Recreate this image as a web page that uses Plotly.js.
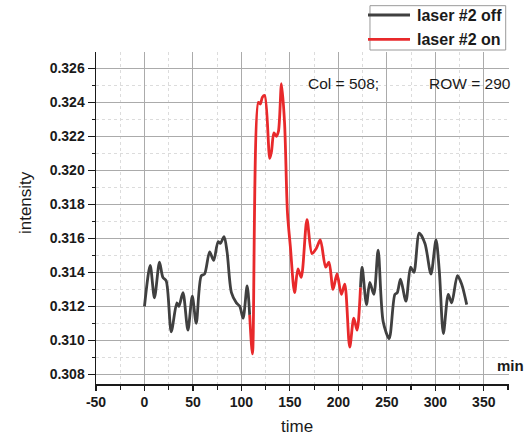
<!DOCTYPE html>
<html>
<head>
<meta charset="utf-8">
<script src="https://cdn.plot.ly/plotly-3.0.1.min.js"></script>
<style>
  html, body { margin: 0; padding: 0; background: #fff; }
  #chart { width: 525px; height: 435px; }
</style>
</head>
<body>
<div id="chart"></div>
<script>
// Series names
const seriesNames = ['laser #2 off', 'laser #2 on'];

// Laser off: before and after the illuminated interval (null splits the two runs)
const offTime = [0, 5.9, 10.3, 15.5, 19, 22.4, 27.6, 33.4, 35.5, 39.7, 44.8, 49.3, 53.4, 58.6, 62, 67.2, 71.4, 75.9, 78.3, 82.1, 85.2, 89.7, 94.8, 98.3, 101.7, 105.9, 108.5,
  null,
  222.8, 224.5, 229, 232.4, 236.6, 241, 246.2, 252.4, 258.3, 260.7, 264.1, 269.7, 274.5, 277.9, 283.4, 289.3, 295.5, 300.7, 304.1, 308.3, 313.4, 316.9, 322.8, 327.2, 332.4];
const offIntensity = [0.3120, 0.3144, 0.3125, 0.3146, 0.3137, 0.3135, 0.3105, 0.3122, 0.3120, 0.3128, 0.3106, 0.3126, 0.3110, 0.3138, 0.3139, 0.3152, 0.3147, 0.3158, 0.3157, 0.3161, 0.3152, 0.3128, 0.3122, 0.3120, 0.3113, 0.3132, 0.3115,
  null,
  0.3131, 0.3143, 0.3121, 0.3134, 0.3127, 0.3153, 0.3111, 0.3101, 0.3127, 0.3128, 0.3136, 0.3123, 0.3143, 0.3140, 0.3163, 0.3157, 0.3139, 0.3159, 0.3141, 0.3104, 0.3127, 0.3122, 0.3138, 0.3133, 0.3121];

// Laser on
const onTime = [108.5, 111.4, 117.5, 119.5, 121.6, 124, 129.2, 131, 133.5, 136, 138.2, 141.3, 144.5, 147.5, 150.5, 154.8, 158.3, 161.7, 167.6, 172.8, 177.2, 181.4, 186.9, 190.3, 194.5, 198.6, 203.1, 206.6, 211.7, 215.9, 219.3, 222.8];
const onIntensity = [0.3115, 0.3092, 0.3240, 0.3239, 0.3243, 0.3244, 0.3207, 0.3211, 0.3222, 0.3220, 0.3223, 0.3251, 0.3228, 0.3175, 0.3155, 0.3128, 0.3142, 0.3137, 0.3171, 0.3151, 0.3154, 0.3159, 0.3143, 0.3146, 0.3130, 0.3139, 0.3127, 0.3133, 0.3096, 0.3113, 0.3106, 0.3131];

// Tick values
const xTicks = [-50, 0, 50, 100, 150, 200, 250, 300, 350];
const yTicks = [0.308, 0.310, 0.312, 0.314, 0.316, 0.318, 0.320, 0.322, 0.324, 0.326];

const colors = ['#404040', '#e8292b'];
const FONT = 'Liberation Sans, Arial, sans-serif';

const traces = [
  { x: offTime, y: offIntensity, name: seriesNames[0], mode: 'lines', connectgaps: false,
    line: { color: colors[0], width: 2.8, shape: 'spline', smoothing: 0.8 } },
  { x: onTime, y: onIntensity, name: seriesNames[1], mode: 'lines',
    line: { color: colors[1], width: 2.8, shape: 'spline', smoothing: 0.8 } }
];

// Legend box drawn in paper coordinates above the plot
const legendShapes = [
  { type: 'rect', xref: 'paper', yref: 'paper', x0: 0.6634, x1: 0.992, y0: 1.006, y1: 1.1395,
    line: { color: '#9a9a9a', width: 1 }, fillcolor: '#ffffff' },
  { type: 'line', xref: 'paper', yref: 'paper', x0: 0.6586, x1: 0.7603, y0: 1.1114, y1: 1.1114,
    line: { color: colors[0], width: 2.8 } },
  { type: 'line', xref: 'paper', yref: 'paper', x0: 0.6586, x1: 0.7603, y0: 1.0382, y1: 1.0382,
    line: { color: colors[1], width: 2.8 } }
];

const legendText = [
  { text: seriesNames[0], xref: 'paper', yref: 'paper', x: 0.7724, y: 1.1114, xanchor: 'left', yanchor: 'middle',
    showarrow: false, font: { family: FONT, size: 16, weight: 'bold', color: '#1a1a1a' } },
  { text: seriesNames[1], xref: 'paper', yref: 'paper', x: 0.7724, y: 1.0382, xanchor: 'left', yanchor: 'middle',
    showarrow: false, font: { family: FONT, size: 16, weight: 'bold', color: '#1a1a1a' } }
];

const notes = [
  { text: 'Col = 508;', xref: 'paper', yref: 'paper', x: 0.5085, y: 0.9066, xanchor: 'left', yanchor: 'middle',
    showarrow: false, font: { family: FONT, size: 15.5, color: '#1a1a1a' } },
  { text: 'ROW = 290', xref: 'paper', yref: 'paper', x: 0.8007, y: 0.9066, xanchor: 'left', yanchor: 'middle',
    showarrow: false, font: { family: FONT, size: 15.5, color: '#1a1a1a' } },
  { text: 'min', xref: 'paper', yref: 'paper', x: 0.966, y: 0.055, xanchor: 'left', yanchor: 'middle',
    showarrow: false, font: { family: FONT, size: 15, weight: 'bold', color: '#1a1a1a' } },
  { text: 'intensity', xref: 'paper', yref: 'paper', x: -0.1719, y: 0.545, xanchor: 'center', yanchor: 'middle',
    textangle: -90, showarrow: false, font: { family: FONT, size: 17, color: '#1a1a1a' } },
  { text: 'time', xref: 'paper', yref: 'paper', x: 0.4867, y: -0.1295, xanchor: 'center', yanchor: 'middle',
    showarrow: false, font: { family: FONT, size: 17, color: '#1a1a1a' } }
];

const layout = {
  width: 525, height: 435,
  margin: { l: 96, r: 16, t: 52, b: 51, pad: 0 },
  paper_bgcolor: '#ffffff', plot_bgcolor: '#ffffff',
  showlegend: false,
  xaxis: {
    range: [-50, 376], tickvals: xTicks, ticktext: xTicks.map(String),
    showline: true, linecolor: '#1a1a1a', linewidth: 1.5,
    ticks: 'outside', ticklen: 5, tickwidth: 1.2, tickcolor: '#1a1a1a',
    tickfont: { family: FONT, size: 14, weight: 'bold', color: '#1a1a1a' },
    showgrid: true, gridcolor: '#ababab', gridwidth: 1,
    zeroline: false,
    minor: { dtick: 25, tick0: 0, ticks: 'outside', ticklen: 4, tickcolor: '#1a1a1a',
      showgrid: true, gridcolor: '#dcdcdc', griddash: 'dot', gridwidth: 1 }
  },
  yaxis: {
    range: [0.30743, 0.32696], tickvals: yTicks, ticktext: yTicks.map(v => v.toFixed(3)),
    showline: true, linecolor: '#1a1a1a', linewidth: 1.5,
    ticks: 'outside', ticklen: 7, tickwidth: 1.2, tickcolor: '#1a1a1a',
    tickfont: { family: FONT, size: 14, weight: 'bold', color: '#1a1a1a' },
    showgrid: true, gridcolor: '#ababab', gridwidth: 1,
    zeroline: false,
    minor: { dtick: 0.001, tick0: 0.308, ticks: 'outside', ticklen: 3, tickcolor: '#1a1a1a',
      showgrid: true, gridcolor: '#dcdcdc', griddash: 'dot', gridwidth: 1 }
  },
  shapes: legendShapes,
  annotations: legendText.concat(notes)
};

Plotly.newPlot('chart', traces, layout, { displayModeBar: false, staticPlot: true });
</script>
</body>
</html>
